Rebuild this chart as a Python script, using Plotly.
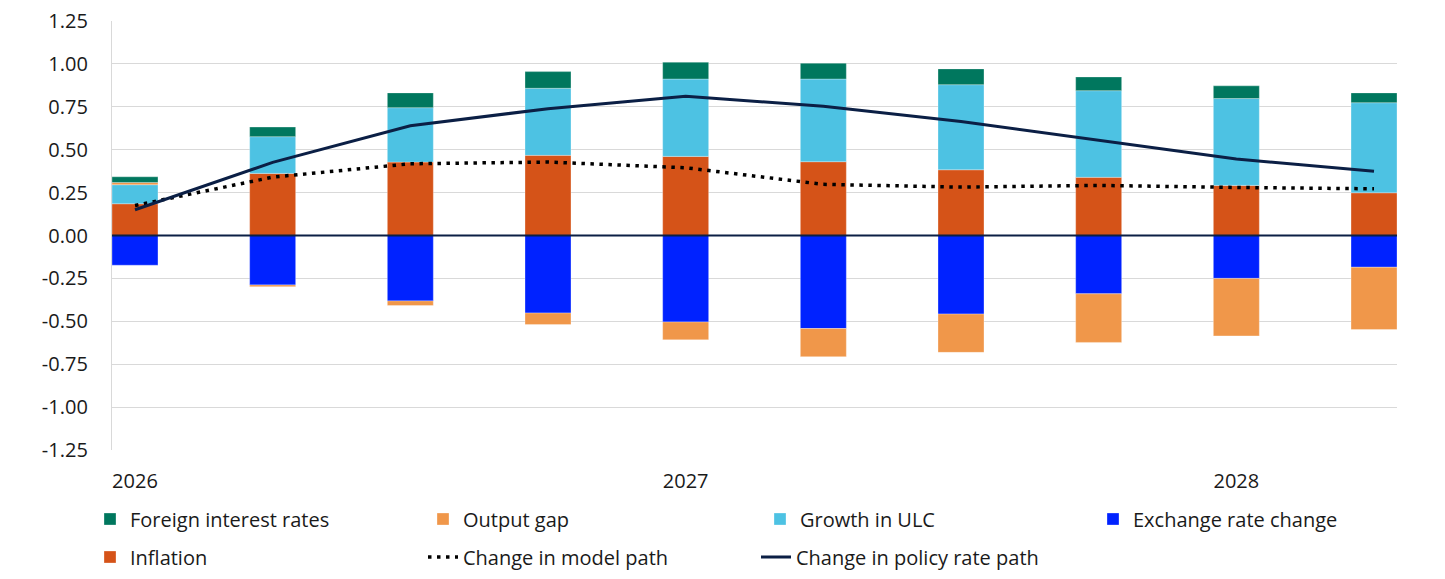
import plotly.graph_objects as go

quarters = ["2026 Q1", "2026 Q2", "2026 Q3", "2026 Q4",
            "2027 Q1", "2027 Q2", "2027 Q3", "2027 Q4",
            "2028 Q1", "2028 Q2"]
year_ticks = ["2026 Q1", "2027 Q1", "2028 Q1"]
year_labels = ["2026", "2027", "2028"]
y_tick_vals = [1.25, 1.0, 0.75, 0.5, 0.25, 0, -0.25, -0.5, -0.75, -1.0, -1.25]
y_tick_labels = ["1.25", "1.00", "0.75", "0.50", "0.25", "0.00",
                 "-0.25", "-0.50", "-0.75", "-1.00", "-1.25"]

inflation = [0.185, 0.362, 0.428, 0.467, 0.461, 0.430, 0.383, 0.339, 0.292, 0.249]
exchange_rate = [-0.173, -0.288, -0.381, -0.452, -0.504, -0.542, -0.458, -0.340, -0.250, -0.185]
growth_ulc = [0.111, 0.214, 0.317, 0.391, 0.451, 0.482, 0.496, 0.505, 0.506, 0.525]
output_gap = [0.013, -0.010, -0.027, -0.067, -0.104, -0.164, -0.223, -0.283, -0.335, -0.363]
foreign_rates = [0.033, 0.056, 0.086, 0.097, 0.098, 0.092, 0.092, 0.080, 0.074, 0.057]
model_path = [0.175, 0.340, 0.418, 0.428, 0.395, 0.298, 0.282, 0.292, 0.280, 0.272]
policy_path = [0.150, 0.426, 0.640, 0.739, 0.811, 0.753, 0.665, 0.554, 0.446, 0.374]

FONT = "Open Sans"
FS = 20
TXT = "#1a1a1a"

# page offset (browser body margin) compensation
OFF = 8
W, H = 1445 - 2 * OFF, 579 - 2 * OFF

fig = go.Figure()

def bar(name, vals, color, rank, legend):
    fig.add_trace(go.Bar(
        x=quarters, y=vals, name=name, marker_color=color,
        marker_line=dict(color="rgba(255,255,255,0.5)", width=0.6),
        legendrank=rank, legend=legend,
    ))

bar("Inflation", inflation, "#D55318", 5, "legend3")
bar("Exchange rate change", exchange_rate, "#0022FF", 4, "legend2")
bar("Growth in ULC", growth_ulc, "#4DC2E3", 3, "legend2")
bar("Output gap", output_gap, "#F0974A", 2, "legend")
bar("Foreign interest rates", foreign_rates, "#00775E", 1, "legend")

fig.add_trace(go.Scatter(
    x=quarters, y=model_path, name="Change in model path", mode="lines",
    line=dict(color="#000000", width=3.5, dash="3.5px,5.5px"),
    legendrank=6, legend="legend3",
))
fig.add_trace(go.Scatter(
    x=quarters, y=policy_path, name="Change in policy rate path", mode="lines",
    line=dict(color="#0B1F45", width=3),
    legendrank=7, legend="legend3",
))

fig.add_shape(type="line", xref="paper", x0=0, x1=1, yref="y", y0=0, y1=0,
              line=dict(color="#0B1F45", width=2.2), layer="above")

def leg(px_x, px_y):
    return dict(
        orientation="h", xref="container", yref="container",
        x=(px_x - OFF) / W, xanchor="left",
        y=1 - (px_y - OFF) / H, yanchor="middle",
        font=dict(family=FONT, size=FS, color=TXT),
        entrywidth=288, entrywidthmode="pixels",
        traceorder="normal", bgcolor="rgba(0,0,0,0)",
        itemwidth=30,
    )

fig.update_layout(
    width=W, height=H,
    margin=dict(l=112 - OFF, r=W + OFF - 1397, t=21 - OFF, b=H + OFF - 450,
                autoexpand=False),
    plot_bgcolor="white", paper_bgcolor="white",
    barmode="relative", bargap=0.666,
    font=dict(family=FONT, size=FS, color=TXT),
    legend=leg(90, 519),
    legend2=leg(90 + 670, 519),
    legend3=leg(90, 557),
    xaxis=dict(
        type="category", range=[-0.167, 9.167],
        tickmode="array", tickvals=year_ticks, ticktext=year_labels,
        showgrid=False, showline=False, ticks="",
        tickfont=dict(family=FONT, size=FS, color=TXT),
        ticklabelstandoff=17,
    ),
    yaxis=dict(
        range=[-1.25, 1.25], tickmode="array",
        tickvals=y_tick_vals, ticktext=y_tick_labels,
        showgrid=True, gridcolor="#D9D9D9", gridwidth=1.3,
        zeroline=False, showline=True, linecolor="#D9D9D9", linewidth=1.3,
        ticks="", ticklabelstandoff=19, ticklabeloverflow="allow",
        tickfont=dict(family=FONT, size=FS, color=TXT),
    ),
)

fig.write_html("out.html")
